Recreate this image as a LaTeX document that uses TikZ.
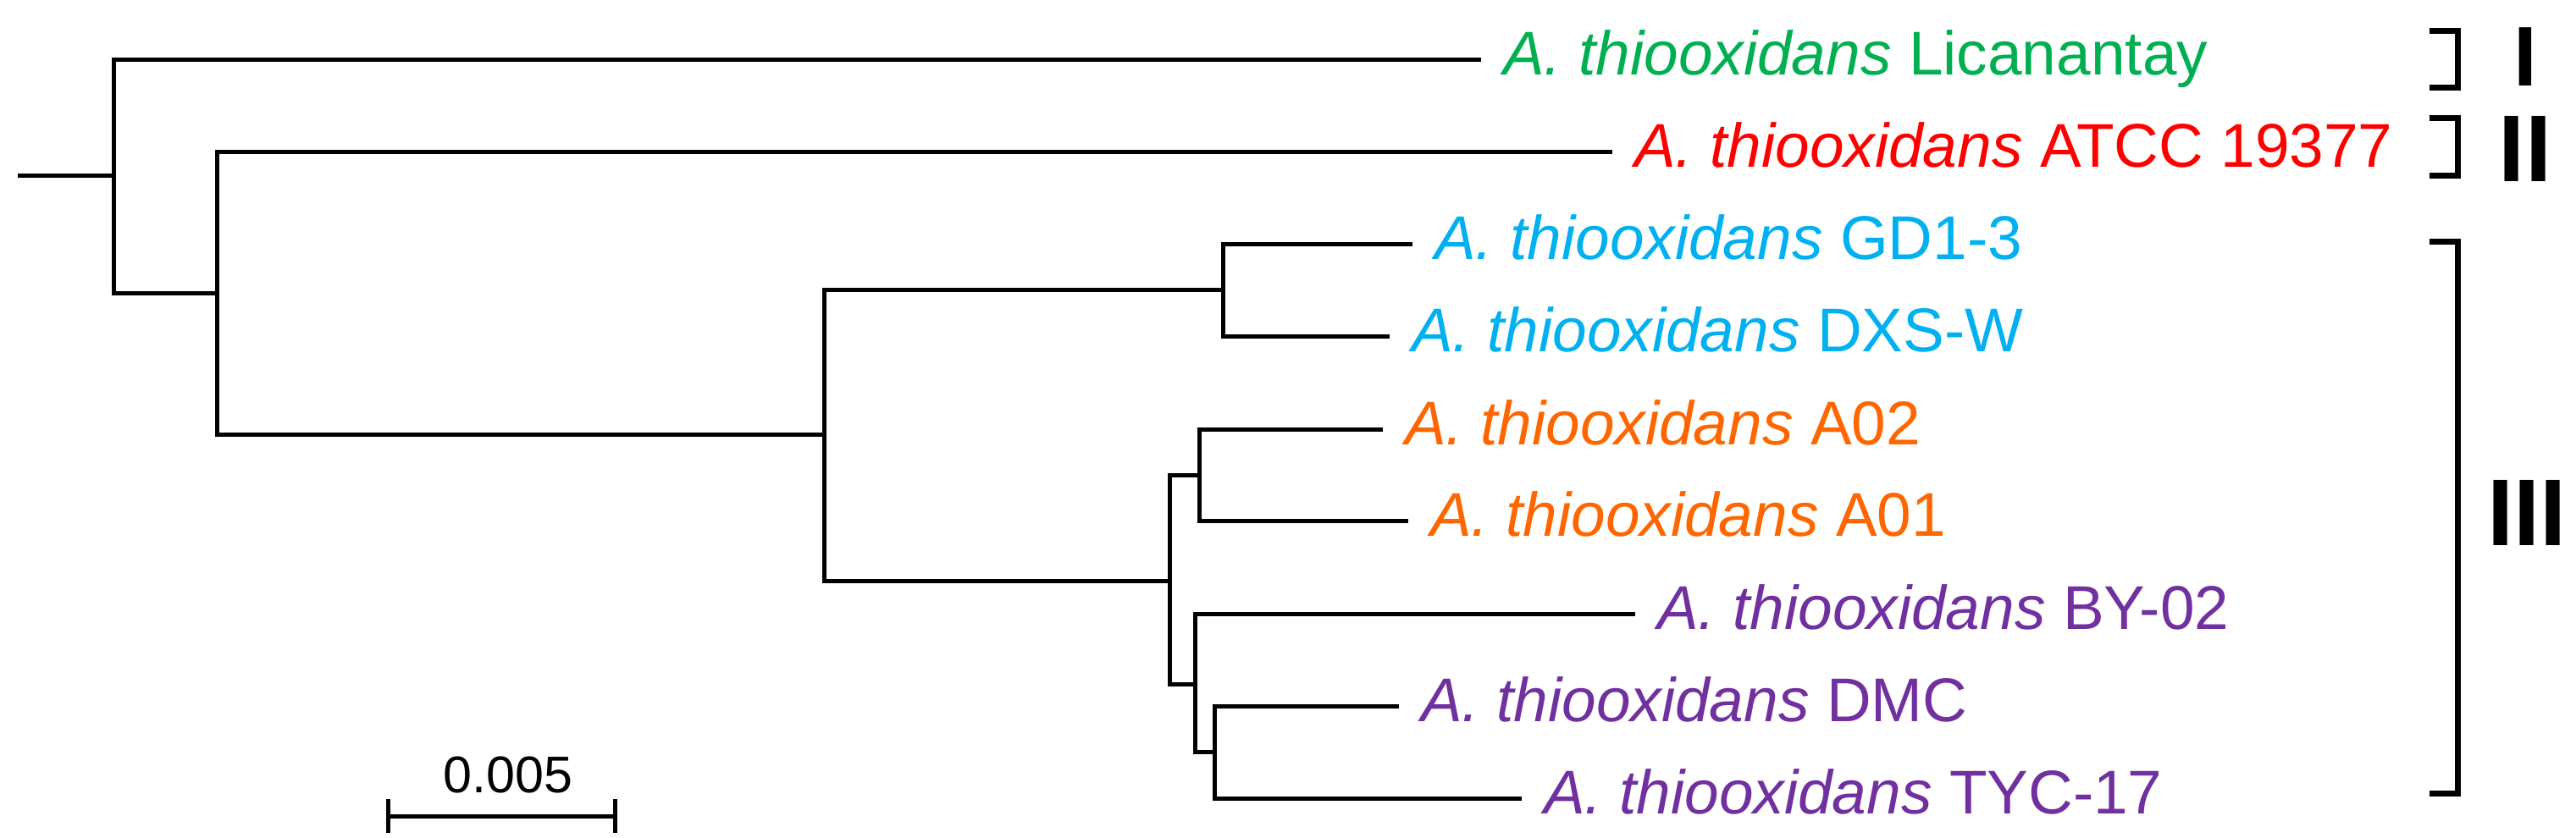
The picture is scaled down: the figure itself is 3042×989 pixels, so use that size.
\documentclass[tikz,border=0pt]{standalone}
\usepackage{fontspec}
\setmainfont{Liberation Sans}
\definecolor{cgreen}{HTML}{00B050}
\definecolor{cred}{HTML}{FF0000}
\definecolor{cblue}{HTML}{00B0F0}
\definecolor{corange}{HTML}{FF6600}
\definecolor{cpurple}{HTML}{7030A0}
\begin{document}
\begin{tikzpicture}[x=1pt,y=-1pt,
  tree/.style={line width=5pt, line join=miter, line cap=butt},
  brk/.style={line width=7pt, line join=miter, line cap=butt},
  lab/.style={anchor=base west, inner sep=0pt, xshift=26pt, yshift=-18pt,
              font=\fontsize{73pt}{80pt}\selectfont},
  num/.style={inner sep=0pt, anchor=center}]
\useasboundingbox (0,0) rectangle (3042,989);
% internal nodes
\coordinate (r) at (21,207);
\coordinate (n1) at (134,207);
\coordinate (n2) at (256,346);
\coordinate (n3) at (973,513);
\coordinate (n4) at (1444,342);
\coordinate (n5) at (1381,686);
\coordinate (n6) at (1416,561);
\coordinate (n7) at (1411,808);
\coordinate (n8) at (1434,888);
% leaves
\coordinate (l1) at (1749,70);
\coordinate (l2) at (1904,179);
\coordinate (l3) at (1668,288);
\coordinate (l4) at (1641,397);
\coordinate (l5) at (1633,507);
\coordinate (l6) at (1663,615);
\coordinate (l7) at (1931,725);
\coordinate (l8) at (1652,834);
\coordinate (l9) at (1797,943);
% branches
\draw[tree] (r) -- (n1);
\draw[tree] (l1) -| (n1) |- (n2);
\draw[tree] (l2) -| (n2) |- (n3);
\draw[tree] (n4) -| (n3) |- (n5);
\draw[tree] (l3) -| (n4) |- (l4);
\draw[tree] (n6) -| (n5) |- (n7);
\draw[tree] (l5) -| (n6) |- (l6);
\draw[tree] (l7) -| (n7) |- (n8);
\draw[tree] (l8) -| (n8) |- (l9);
% labels
\node[lab, text=cgreen] (t1) at (l1) {\textit{A. thiooxidans} Licanantay};
\node[lab, text=cred] (t2) at (l2) {\textit{A. thiooxidans} ATCC 19377};
\node[lab, text=cblue] (t3) at (l3) {\textit{A. thiooxidans} GD1-3};
\node[lab, text=cblue] (t4) at (l4) {\textit{A. thiooxidans} DXS-W};
\node[lab, text=corange] (t5) at (l5) {\textit{A. thiooxidans} A02};
\node[lab, text=corange] (t6) at (l6) {\textit{A. thiooxidans} A01};
\node[lab, text=cpurple] (t7) at (l7) {\textit{A. thiooxidans} BY-02};
\node[lab, text=cpurple] (t8) at (l8) {\textit{A. thiooxidans} DMC};
\node[lab, text=cpurple] (t9) at (l9) {\textit{A. thiooxidans} TYC-17};
% scale bar
\coordinate (s1) at (458,964);
\coordinate (s2) at (726,964);
\draw[tree] (s1) -- (s2);
\draw[tree] (s1) ++(0,-20) -- ++(0,40);
\draw[tree] (s2) ++(0,-20) -- ++(0,40);
\node[anchor=base, inner sep=0pt, font=\fontsize{61pt}{70pt}\selectfont] (sl) at (600,936) {0.005};
% group brackets
\draw[brk] (2869,36) -- (2902,36) -- (2902,103) -- (2869,103);
\draw[brk] (2869,139) -- (2902,139) -- (2902,207) -- (2869,207);
\draw[brk] (2869,285) -- (2902,285) -- (2902,937) -- (2869,937);
\node[num, font=\fontsize{100pt}{110pt}\selectfont\bfseries] (g1) at (2982,67) {I};
\node[num, font=\fontsize{112pt}{120pt}\selectfont\bfseries] (g2) at (2982,176) {II};
\node[num, font=\fontsize{112pt}{120pt}\selectfont\bfseries] (g3) at (2984,606) {III};
\end{tikzpicture}
\end{document}
